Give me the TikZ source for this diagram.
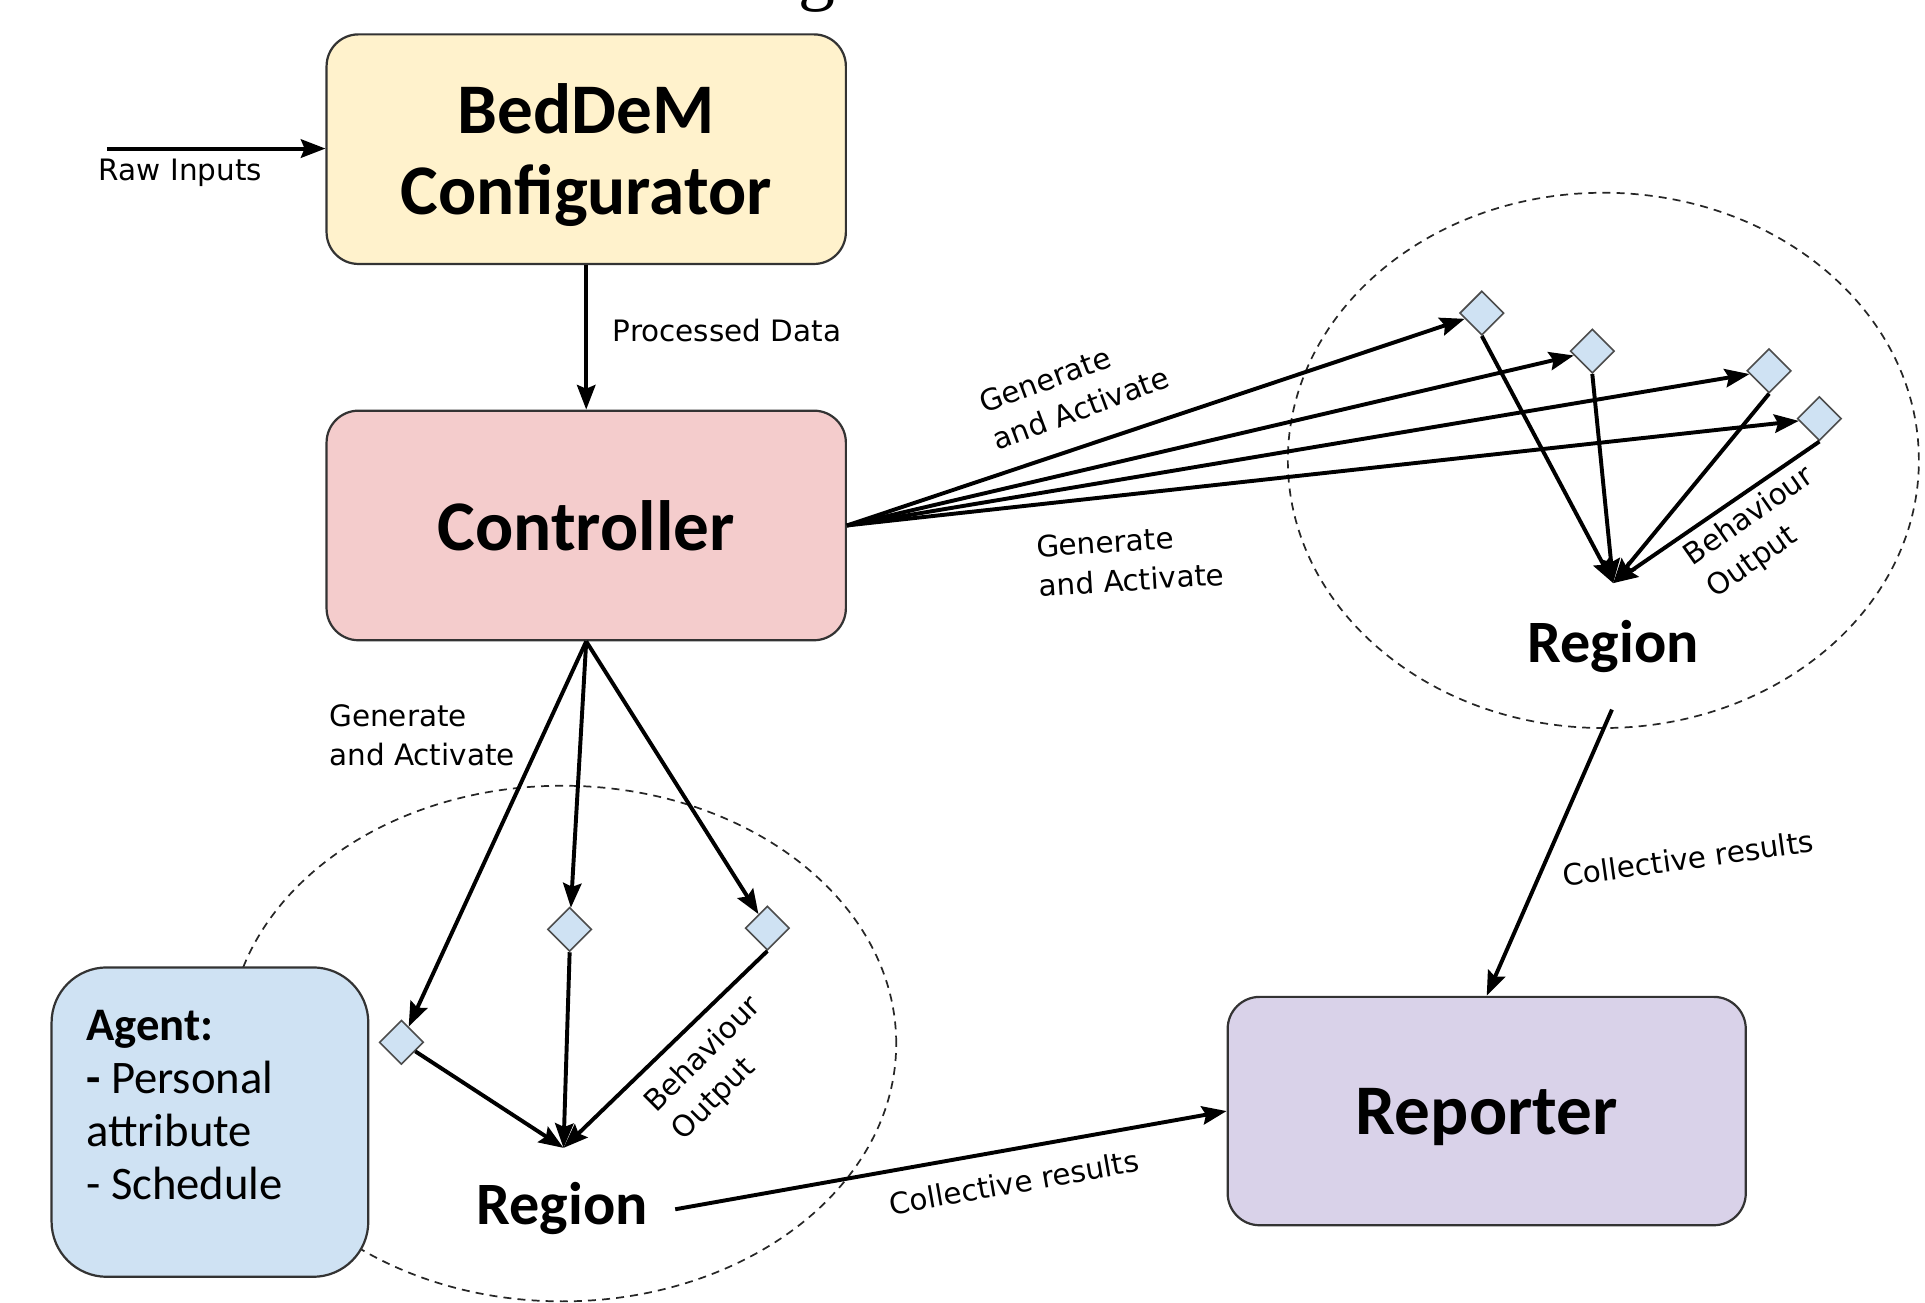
\documentclass[tikz,border=0pt]{standalone}
\usepackage{fontspec}
\setmainfont{Carlito}
\newfontfamily\lblfont{DejaVu Sans}
\newfontfamily\ttlfont{Liberation Serif}
\usetikzlibrary{shapes.geometric,arrows.meta}
\definecolor{confc}{HTML}{FFF2CC}
\definecolor{ctrlc}{HTML}{F4CCCC}
\definecolor{agentc}{HTML}{CFE2F3}
\definecolor{repc}{HTML}{D9D2E9}
\definecolor{diac}{HTML}{CFE2F3}
\definecolor{edgec}{HTML}{333333}
\begin{document}
\begin{tikzpicture}[x=1pt,y=-1pt,
  box/.style={draw=edgec, line width=1.8pt, rounded corners=26pt, minimum width=423pt, minimum height=187pt, align=center, inner sep=0pt, text depth=0pt, font=\fontsize{58}{66}\selectfont\bfseries},
  dia/.style={draw=black!70, line width=1.3pt, fill=diac, shape=diamond, aspect=1, minimum width=36pt, minimum height=36pt, inner sep=0pt},
  arr/.style={line width=3.2pt, -{Stealth[length=20pt,width=15pt,inset=3pt]}},
  lbl/.style={font=\lblfont\fontsize{24}{32}\selectfont, inner sep=0pt, align=left},
  reg/.style={font=\fontsize{49}{55}\selectfont\bfseries, inner sep=0pt, anchor=base},
  zone/.style={draw=black!85, line width=1.4pt, dash pattern=on 6.5pt off 5pt, ellipse, inner sep=0pt}
]
\useasboundingbox (0,0) rectangle (1568,1061);
\clip (0,0) rectangle (1568,1061);

% partial title glyph at the top edge
\node[font=\ttlfont\fontsize{60}{60}\selectfont, anchor=base, inner sep=0pt] (title) at (665,-3) {g};

% dashed region zones
\node[zone, minimum width=514pt, minimum height=436pt] (zoneR) at (1306,375) {};
\node[zone, minimum width=544pt, minimum height=420pt] (zoneL) at (458,850) {};

% main boxes
\node[box, fill=confc] (conf) at (477.5,121.5) {BedDeM\\Configurator};
\node[box, fill=ctrlc] (ctrl) at (477.5,428) {Controller};
\node[box, fill=repc, minimum width=422pt, minimum height=186pt] (rep) at (1211,905) {Reporter};
\node[box, fill=agentc, minimum width=258pt, minimum height=252pt, rounded corners=45pt] (agent) at (171,914) {};
\node[font=\fontsize{38}{43}\selectfont, align=left, anchor=west, inner sep=0pt] (agenttxt) at (70,900) {\textbf{Agent:}\\\textbf{-} Personal\\attribute\\- Schedule};

% raw inputs
\coordinate (rawin) at (87,121);
\draw[arr] (rawin) -- (conf.west |- rawin);
\node[lbl] (rawlbl) at (147,141) {Raw Inputs};

% processed data
\draw[arr] (conf) -- (ctrl);
\node[lbl, anchor=west] (proclbl) at (499,269) {Processed Data};

% right region
\node[dia] (r1) at (1207,255) {};
\node[dia] (r2) at (1297,286) {};
\node[dia] (r3) at (1441,302) {};
\node[dia] (r4) at (1482,341) {};
\coordinate (rp) at (1314,475);
\foreach \d in {r1,r2,r3,r4} \draw[arr] (ctrl.east) -- (\d);
\foreach \d in {r1,r2,r3,r4} \draw[arr] (\d.south) -- (rp);
\node[lbl, anchor=west, rotate=20.5] (ga1) at (804,344) {Generate\\and Activate};
\node[lbl, anchor=west, rotate=3.5] (ga2) at (845,461) {Generate\\and Activate};
\node[lbl, anchor=west, rotate=35] (bo1) at (1384,469) {Behaviour\\Output};
\node[reg] (regR) at (1314,540) {Region};

% left region
\node[dia] (l1) at (327,849) {};
\node[dia] (l2) at (464,757) {};
\node[dia] (l3) at (625,756) {};
\coordinate (lp) at (459,935);
\foreach \d in {l1,l2,l3} \draw[arr] (ctrl.south) -- (\d);
\draw[arr] (l1) -- (lp);
\draw[arr] (l2.south) -- (lp);
\draw[arr] (l3.south) -- (lp);
\node[lbl, anchor=west] (ga3) at (268,599) {Generate\\and Activate};
\node[lbl, anchor=west, rotate=45] (bo2) at (541,914) {Behaviour\\Output};
\node[reg] (regL) at (458,997) {Region};

% collective results
\coordinate (regRout) at (1313,578);
\coordinate (regLout) at (550,985);
\draw[arr] (regRout) -- (rep.north);
\draw[arr] (regLout) -- (rep.west);
\node[lbl, rotate=8] (cr1) at (1375,699) {Collective results};
\node[lbl, rotate=10] (cr2) at (826,963) {Collective results};
\end{tikzpicture}
\end{document}
